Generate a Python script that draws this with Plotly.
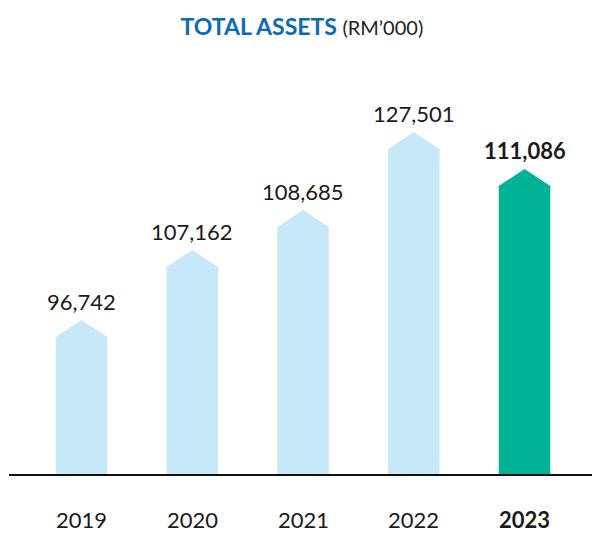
import plotly.graph_objects as go

years = ["2019", "2020", "2021", "2022", "2023"]
values = [96742, 107162, 108685, 127501, 111086]
# bar heights as drawn in the infographic (arbitrary display units)
bar_heights = [137, 207, 247, 325, 288]
colors = ["#c7e8f8", "#c7e8f8", "#c7e8f8", "#c7e8f8", "#00b394"]
highlight = [False, False, False, False, True]

CAP = 17       # height of the pointed cap
BAR_W = 0.465  # bar width in category units
FONT = "Lato, 'Open Sans', sans-serif"
Y_MAX = 400

xs = list(range(len(years)))
fig = go.Figure()

fig.add_trace(go.Bar(
    x=xs, y=bar_heights, width=BAR_W, marker_color=colors,
    marker_line_width=0, hoverinfo="skip", showlegend=False,
))

for i, (h, c) in enumerate(zip(bar_heights, colors)):
    fig.add_trace(go.Scatter(
        x=[i - BAR_W / 2, i, i + BAR_W / 2, i + BAR_W / 2, i - BAR_W / 2, i - BAR_W / 2],
        y=[h, h + CAP, h, h - 2, h - 2, h],
        mode="lines", fill="toself", fillcolor=c, line=dict(width=0, color=c),
        hoverinfo="skip", showlegend=False,
    ))

for i, (h, v, hl) in enumerate(zip(bar_heights, values, highlight)):
    txt = f"{v:,}"
    if hl:
        txt = f"<b>{txt}</b>"
    fig.add_annotation(
        x=i, y=h + CAP + 19, text=txt, showarrow=False,
        xanchor="center", yanchor="middle",
        font=dict(family=FONT, size=22, color="#1a1a1a"),
    )

for i, (yr, hl) in enumerate(zip(years, highlight)):
    fig.add_annotation(
        x=i, xref="x", y=-45 / Y_MAX, yref="paper",
        text=f"<b>{yr}</b>" if hl else yr, showarrow=False,
        xanchor="center", yanchor="middle",
        font=dict(family=FONT, size=22, color="#1a1a1a"),
    )

fig.update_layout(
    width=592, height=533,
    margin=dict(l=9, r=0, t=74, b=59),
    paper_bgcolor="white", plot_bgcolor="white",
    title=dict(
        text="<b>TOTAL ASSETS</b> <span style='font-size:20px;font-weight:normal;color:#222222'>(RM’000)</span>",
        font=dict(family=FONT, size=23, color="#0a6ab4", weight=900),
        x=0.51, xanchor="center", y=1 - 27 / 533, yanchor="middle",
    ),
    xaxis=dict(
        range=[-0.6546, 4.609], tickvals=xs, showticklabels=False,
        showgrid=False, zeroline=False, showline=True, linecolor="#111111", linewidth=1.5,
        ticks="",
    ),
    yaxis=dict(
        range=[0, Y_MAX], showgrid=False, zeroline=False, showline=False,
        showticklabels=False, ticks="",
    ),
)

fig.write_html("out.html", config={"displayModeBar": False},
               post_script="document.body.style.margin='0';")
